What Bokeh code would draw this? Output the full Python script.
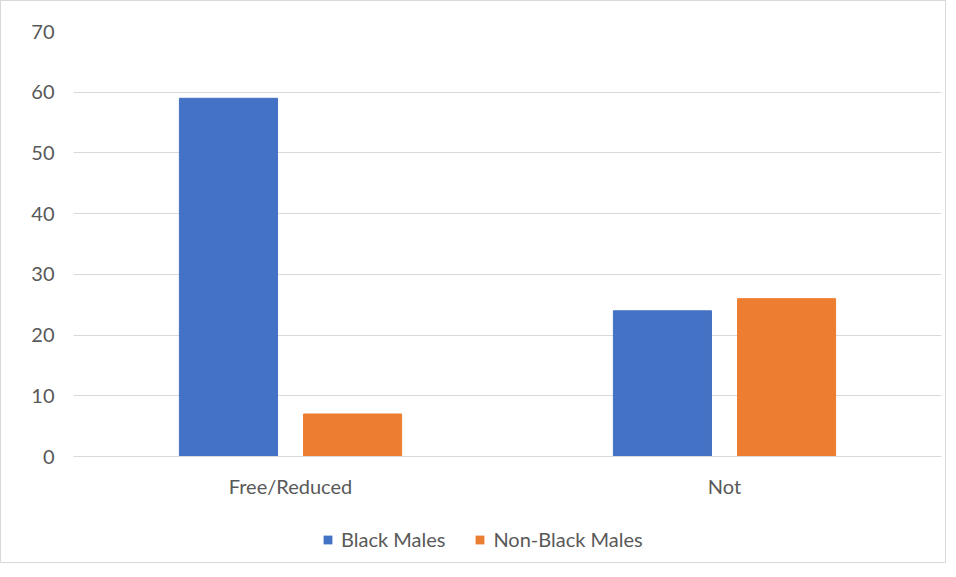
from bokeh.plotting import figure
from bokeh.layouts import column
from bokeh.models import FactorRange, Range1d, Legend, LegendItem, ColumnDataSource
from bokeh.transform import dodge
from bokeh.embed import file_html
from bokeh.resources import INLINE

categories = ["Free/Reduced", "Not"]
black_males = [59, 24]
non_black_males = [7, 26]
series_names = ["Black Males", "Non-Black Males"]
y_ticks = [0, 10, 20, 30, 40, 50, 60, 70]

BLUE = "#4472C4"
ORANGE = "#ED7D31"
FONT = "Lato"
FONT_SIZE = "20px"
LABEL_COLOR = "#595959"

source = ColumnDataSource(dict(cat=categories, black=black_males, nonblack=non_black_males))

p = figure(
    x_range=FactorRange(*categories, range_padding=0),
    y_range=Range1d(0, 70),
    width=944, height=501,
    output_backend="svg", toolbar_location=None,
    min_border_left=72, min_border_right=4,
    min_border_top=30, min_border_bottom=46,
)
p.outline_line_color = None
p.background_fill_color = "white"

r1 = p.vbar(x=dodge("cat", -0.143, range=p.x_range), top="black", width=0.226,
            source=source, fill_color=BLUE, line_color=BLUE)
r2 = p.vbar(x=dodge("cat", 0.143, range=p.x_range), top="nonblack", width=0.226,
            source=source, fill_color=ORANGE, line_color=ORANGE)

p.yaxis.ticker = y_ticks
p.ygrid.ticker = y_ticks
p.ygrid.grid_line_color = "#d9d9d9"
p.ygrid.grid_line_width = 1
p.xgrid.grid_line_color = None

for ax in (p.xaxis, p.yaxis):
    ax.axis_line_color = None
    ax.major_tick_line_color = None
    ax.minor_tick_line_color = None
    ax.major_label_text_font = FONT
    ax.major_label_text_font_size = FONT_SIZE
    ax.major_label_text_color = LABEL_COLOR

p.xaxis.major_label_standoff = 11
p.yaxis.major_label_standoff = 13
p.xaxis.axis_line_color = "#d9d9d9"

# Legend strip below the chart (zero-height key bars, one per series)
lg = figure(
    width=944, height=60, output_backend="svg", toolbar_location=None,
    x_range=FactorRange(*series_names), y_range=Range1d(0, 1),
    min_border=0, x_axis_location=None, y_axis_location=None,
)
lg.outline_line_color = None
lg.xgrid.grid_line_color = None
lg.ygrid.grid_line_color = None
keys = ColumnDataSource(dict(name=series_names, top=[0, 0], color=[BLUE, ORANGE]))
g = lg.vbar(x="name", top="top", width=0.1, source=keys, fill_color="color", line_color=None)

legend = Legend(
    items=[LegendItem(label=series_names[0], renderers=[g], index=0),
           LegendItem(label=series_names[1], renderers=[g], index=1)],
    orientation="horizontal", location=(249, 11),
    label_text_font=FONT, label_text_font_size=FONT_SIZE, label_text_color=LABEL_COLOR,
    glyph_width=11, glyph_height=11, label_standoff=8, spacing=29,
    border_line_color=None, background_fill_alpha=0, margin=0, padding=0,
)
lg.add_layout(legend, "center")

layout = column(p, lg, spacing=0)
layout.styles = {"border": "1px solid #d9d9d9"}

open("out.html", "w").write(file_html(layout, INLINE))
